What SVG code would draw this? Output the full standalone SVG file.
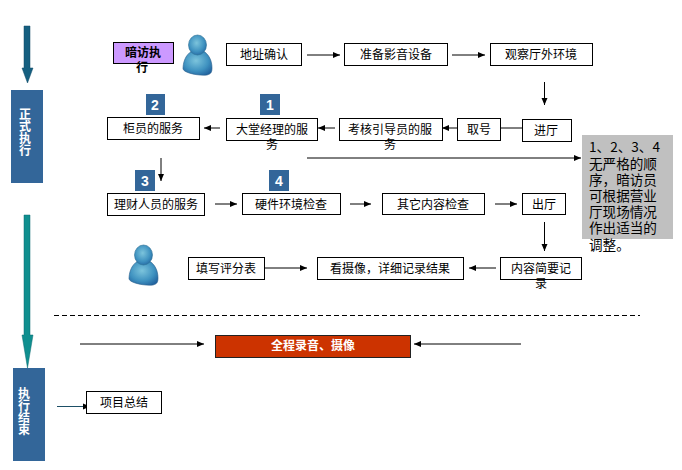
<svg xmlns="http://www.w3.org/2000/svg" xmlns:xlink="http://www.w3.org/1999/xlink" width="682" height="470" viewBox="0 0 682 470">
  <style>
    text { font-family: "Noto Sans CJK SC", "Liberation Sans", sans-serif; font-size: 12px; fill: #000; text-anchor: middle; }
    .box { fill: #fff; stroke: #000; stroke-width: 1; }
    .band { fill: #336699; }
    .vert { fill: #fff; font-weight: 700; writing-mode: vertical-rl; text-anchor: start; }
    .num { fill: #fff; font-family: "Liberation Sans", sans-serif; font-size: 14px; font-weight: 700; }
    .link { fill: none; stroke: #000; stroke-width: 1; marker-end: url(#head); }
    .plain { fill: none; stroke: #000; stroke-width: 1; }
    .note { text-anchor: start; font-size: 13.6px; }
  </style>
  <defs>
    <marker id="head" markerUnits="userSpaceOnUse" markerWidth="8" markerHeight="8" refX="7" refY="4" orient="auto">
      <path d="M0,1 L7,4 L0,7 Z" fill="#000"/>
    </marker>
    <radialGradient id="skin" cx="0.45" cy="0.4" r="0.7">
      <stop offset="0" stop-color="#7cc4dc"/>
      <stop offset="0.6" stop-color="#3f92c0"/>
      <stop offset="1" stop-color="#1f5f9c"/>
    </radialGradient>
    <g id="person">
      <path d="M9,16 C2,20 0,28 0,34 C1,38 16,41 24,40 C28,39 29,37 29,33 C29,26 26,19 20,16 Z" fill="url(#skin)" stroke="#2a5f8c" stroke-width="0.6"/>
      <ellipse cx="14.5" cy="10" rx="9" ry="10" fill="url(#skin)" stroke="#2a6f94" stroke-width="0.6"/>
    </g>
  </defs>
  <rect width="682" height="470" fill="#fff"/>

  <g id="connectors">
    <path class="link" d="M307,55H340"/>
    <path class="link" d="M452,55H485"/>
    <path class="link" d="M544.500,82V105"/>
    <path class="plain" d="M500,128H522"/>
    <path class="link" d="M457,128H442"/>
    <path class="link" d="M335,128H318"/>
    <path class="link" d="M220,128H204"/>
    <path class="link" d="M161,158V181"/>
    <path class="link" d="M215,204H237"/>
    <path class="link" d="M350,204H371"/>
    <path class="link" d="M495,204H517"/>
    <path class="link" d="M544.500,222V251"/>
    <path class="link" d="M496,268H469"/>
    <path class="link" d="M265,268H307"/>
    <path class="link" d="M307,158H581"/>
    <path class="plain" d="M54,315.500H640" stroke-dasharray="5 3"/>
    <path class="link" d="M80,344H204"/>
    <path class="link" d="M521,344H414"/>
    <path class="link" d="M57,406.500H90" style="stroke:#1d4f66"/>
    <path d="M24,26H30V68H33L27.500,83L22,68H24Z" fill="#155f80" stroke="#114a66" stroke-width="0.5"/>
    <path d="M24,215H30V335H33L27.500,368L22,335H24Z" fill="#0f8f8f" stroke="#0b6a70" stroke-width="0.5"/>
  </g>

  <g id="band-exec">
    <rect class="band" x="11" y="90" width="32" height="93"/>
    <text class="vert" x="25" y="108">正式执行</text>
  </g>
  <g id="band-end">
    <rect class="band" x="13" y="368" width="32" height="93"/>
    <text class="vert" x="24" y="387">执行结束</text>
  </g>

  <g id="start">
    <rect x="113.500" y="42.500" width="60" height="21" fill="#cc99ff" stroke="#000"/>
    <text font-weight="700"><tspan x="143" y="57">暗访执</tspan><tspan x="142" y="72">行</tspan></text>
  </g>
  <use id="person-top" xlink:href="#person" x="183" y="35"/>
  <use id="person-bottom" xlink:href="#person" x="129" y="245"/>

  <g id="n-address"><rect class="box" x="226.500" y="43.500" width="75" height="22"/><text x="264" y="59">地址确认</text></g>
  <g id="n-equipment"><rect class="box" x="344.500" y="43.500" width="103" height="22"/><text x="396" y="59">准备影音设备</text></g>
  <g id="n-outside"><rect class="box" x="490.500" y="43.500" width="102" height="22"/><text x="541" y="59">观察厅外环境</text></g>

  <g id="n-enter"><rect class="box" x="522.500" y="119.500" width="49" height="22"/><text x="546" y="135">进厅</text></g>
  <g id="n-ticket"><rect class="box" x="457.500" y="118.500" width="43" height="22"/><text x="479" y="134">取号</text></g>
  <g id="n-guide"><rect class="box" x="339.500" y="118.500" width="103" height="22"/><text><tspan x="390" y="134">考核引导员的服</tspan><tspan x="390" y="149">务</tspan></text></g>
  <g id="n-lobby"><rect class="box" x="226.500" y="118.500" width="91" height="22"/><text><tspan x="272" y="134">大堂经理的服</tspan><tspan x="272" y="149">务</tspan></text></g>
  <g id="n-teller"><rect class="box" x="107.500" y="117.500" width="92" height="22"/><text x="153" y="133">柜员的服务</text></g>

  <g id="n-finance"><rect class="box" x="107.500" y="193.500" width="97" height="22"/><text x="156" y="209">理财人员的服务</text></g>
  <g id="n-hardware"><rect class="box" x="242.500" y="193.500" width="98" height="21"/><text x="291" y="209">硬件环境检查</text></g>
  <g id="n-other"><rect class="box" x="382.500" y="193.500" width="102" height="21"/><text x="433" y="209">其它内容检查</text></g>
  <g id="n-exit"><rect class="box" x="522.500" y="193.500" width="43" height="21"/><text x="544" y="209">出厅</text></g>

  <g id="n-summary"><rect class="box" x="500.500" y="257.500" width="81" height="22"/><text><tspan x="541" y="273">内容简要记</tspan><tspan x="541" y="288">录</tspan></text></g>
  <g id="n-review"><rect class="box" x="317.500" y="257.500" width="146" height="22"/><text x="390" y="273">看摄像，详细记录结果</text></g>
  <g id="n-score"><rect class="box" x="188.500" y="257.500" width="76" height="22"/><text x="226" y="273">填写评分表</text></g>

  <g id="badge-1"><rect class="band" x="260" y="94" width="20" height="21"/><text class="num" x="270" y="110">1</text></g>
  <g id="badge-2"><rect class="band" x="146" y="94" width="19" height="21"/><text class="num" x="155" y="110">2</text></g>
  <g id="badge-3"><rect class="band" x="135" y="170" width="20" height="21"/><text class="num" x="145" y="186">3</text></g>
  <g id="badge-4"><rect class="band" x="269" y="170" width="20" height="21"/><text class="num" x="279" y="186">4</text></g>

  <g id="note">
    <rect x="582" y="135" width="91" height="104" fill="#c0c0c0"/>
    <text class="note">
      <tspan x="589" y="152">1、2、3、4</tspan>
      <tspan x="589" y="169">无严格的顺</tspan>
      <tspan x="589" y="185">序，暗访员</tspan>
      <tspan x="589" y="201">可根据营业</tspan>
      <tspan x="589" y="217">厅现场情况</tspan>
      <tspan x="589" y="233">作出适当的</tspan>
      <tspan x="589" y="250">调整。</tspan>
    </text>
  </g>

  <g id="recording">
    <rect x="215.500" y="335.500" width="195" height="22" fill="#cc3300" stroke="#222"/>
    <text x="313" y="350" style="fill:#fff" font-weight="700">全程录音、摄像</text>
  </g>

  <g id="n-wrapup"><rect class="box" x="86.500" y="391.500" width="75" height="22"/><text x="124" y="407">项目总结</text></g>
</svg>
